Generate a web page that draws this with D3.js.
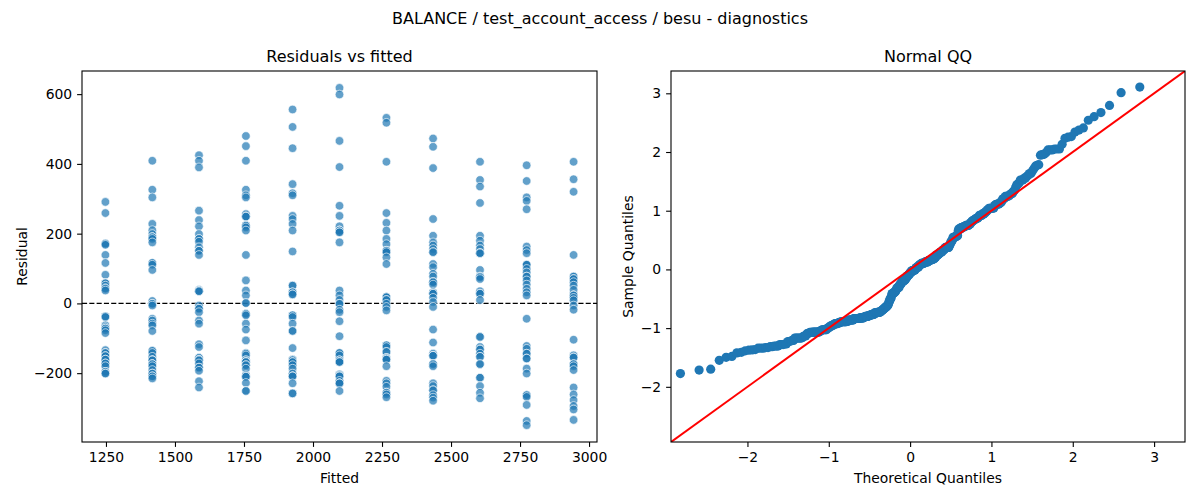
<!DOCTYPE html>
<html>
<head>
<meta charset="utf-8">
<script src="https://cdn.jsdelivr.net/npm/d3@7"></script>
<style>
  body { margin: 0; background: #fff; }
  text { font-family: "DejaVu Sans", sans-serif; fill: #000; }
</style>
</head>
<body>
<div id="chart"></div>
<script>
// fitted levels (one column of residuals per level)
var fittedLevels = [1248, 1418, 1587, 1757, 1926, 2096, 2266, 2435, 2605, 2774, 2944];

// residuals read per fitted column (repeats where dots overlap)
var res1248 = [291, 259, 172, 171, 168, 139, 116, 82, 58, 58, 51, 44, 42, 37, -37, -37, -39, -63, -68, -72, -72, -77, -85, -134, -142, -142, -151, -151, -161, -161, -172, -172, -180, -196, -196, -201, -201];
var res1418 = [409, 326, 304, 228, 210, 199, 190, 190, 190, 185, 175, 116, 116, 111, 96, 7, -1, -1, -6, -44, -49, -58, -63, -79, -136, -136, -142, -153, -163, -163, -163, -174, -174, -174, -180, -191, -201, -201, -209, -209, -215];
var res1587 = [425, 409, 390, 266, 239, 221, 199, 185, 185, 177, 161, 151, 151, 139, 39, 35, 35, 35, -6, -15, -15, -25, -49, -58, -117, -125, -156, -156, -161, -163, -163, -172, -184, -184, -193, -223, -241];
var res1757 = [480, 451, 409, 326, 310, 304, 256, 249, 249, 249, 223, 223, 223, 218, 209, 139, 66, 37, 23, 1, 1, -30, -30, -34, -58, -75, -106, -142, -144, -149, -163, -163, -168, -168, -168, -177, -177, -187, -206, -210, -210, -210, -228, -251, -251];
var res1926 = [556, 506, 445, 342, 316, 310, 251, 242, 228, 209, 149, 51, 51, 32, 32, 26, 26, -34, -34, -39, -58, -79, -79, -128, -161, -161, -163, -168, -168, -177, -187, -201, -209, -209, -209, -229, -258, -258];
var res2096 = [618, 599, 466, 391, 280, 251, 221, 209, 209, 209, 204, 204, 175, 37, 23, 10, -1, -1, -18, -25, -51, -94, -142, -142, -149, -163, -163, -168, -168, -168, -203, -206, -209, -209, -222, -229, -229, -229, -251];
var res2266 = [532, 518, 406, 259, 231, 209, 185, 170, 151, 151, 151, 147, 132, 113, 18, 18, 18, 10, 10, -1, -10, -20, -120, -120, -125, -139, -139, -156, -156, -158, -161, -161, -180, -222, -229, -239, -256, -256, -261, -269];
var res2435 = [473, 449, 388, 242, 194, 175, 166, 156, 147, 147, 113, 104, 85, 77, 61, 61, 61, 54, 32, 28, 28, 28, 16, 4, -10, -75, -112, -144, -150, -150, -150, -174, -174, -180, -229, -237, -249, -249, -263, -270, -279];
var res2605 = [406, 354, 335, 288, 194, 180, 166, 156, 144, 144, 144, 96, 77, 77, 75, 70, 35, 28, 28, 28, 10, -96, -96, -125, -132, -132, -144, -153, -153, -174, -174, -213, -213, -237, -256, -272];
var res2774 = [396, 351, 304, 294, 270, 163, 153, 144, 111, 111, 111, 99, 89, 77, 77, 66, 54, 42, 32, 23, -44, -122, -130, -144, -144, -158, -158, -187, -201, -263, -263, -268, -291, -337, -349];
var res2944 = [406, 356, 320, 139, 77, 77, 70, 70, 61, 51, 39, 23, 23, 23, 16, 9, -6, -18, -104, -149, -155, -155, -174, -174, -180, -191, -241, -261, -277, -294, -304, -334];

var residualColumns = [res1248, res1418, res1587, res1757, res1926, res2096, res2266, res2435, res2605, res2774, res2944];

// tick labels
var fittedTicks = [1250, 1500, 1750, 2000, 2250, 2500, 2750, 3000];
var residualTicks = [-200, 0, 200, 400, 600];
var qqTicks = [-2, -1, 0, 1, 2, 3];

var w = 1200;
var h = 500;
var plotTop = 71, plotBottom = 442;
var leftPanel = { x0: 82, x1: 597 };
var rightPanel = { x0: 671, x1: 1185 };
var tickLen = 4.9;

// flatten into points
var points = [];
fittedLevels.forEach(function (f, i) {
    residualColumns[i].forEach(function (r) {
        points.push([f, r]);
    });
});

// inverse normal cdf (Acklam) for theoretical quantiles
function normInv(p) {
    var a = [-3.969683028665376e+01, 2.209460984245205e+02, -2.759285104469687e+02, 1.383577518672690e+02, -3.066479806614716e+01, 2.506628277459239e+00];
    var b = [-5.447609879822406e+01, 1.615858368580409e+02, -1.556989798598866e+02, 6.680131188771972e+01, -1.328068155288572e+01];
    var c = [-7.784894002430293e-03, -3.223964580411365e-01, -2.400758277161838e+00, -2.549732539343734e+00, 4.374664141464968e+00, 2.938163982698783e+00];
    var d = [7.784695709041462e-03, 3.224671290700398e-01, 2.445134137142996e+00, 3.754408661907416e+00];
    var pl = 0.02425, q, r;
    if (p < pl) {
        q = Math.sqrt(-2 * Math.log(p));
        return (((((c[0] * q + c[1]) * q + c[2]) * q + c[3]) * q + c[4]) * q + c[5]) / ((((d[0] * q + d[1]) * q + d[2]) * q + d[3]) * q + 1);
    }
    if (p > 1 - pl) {
        q = Math.sqrt(-2 * Math.log(1 - p));
        return -(((((c[0] * q + c[1]) * q + c[2]) * q + c[3]) * q + c[4]) * q + c[5]) / ((((d[0] * q + d[1]) * q + d[2]) * q + d[3]) * q + 1);
    }
    q = p - 0.5;
    r = q * q;
    return (((((a[0] * r + a[1]) * r + a[2]) * r + a[3]) * r + a[4]) * r + a[5]) * q / (((((b[0] * r + b[1]) * r + b[2]) * r + b[3]) * r + b[4]) * r + 1);
}

// standardized sorted residuals against normal quantiles
var allRes = points.map(function (d) { return d[1]; }).sort(d3.ascending);
var n = allRes.length;
var mu = d3.mean(allRes);
var sd = Math.sqrt(d3.mean(allRes, function (v) { return (v - mu) * (v - mu); }));
var qq = allRes.map(function (v, i) {
    return [normInv((i + 1) / (n + 1)), (v - mu) / sd];
});

var svg = d3.select("#chart")
    .append("svg")
    .attr("width", w)
    .attr("height", h);

// suptitle
svg.append("text")
    .attr("x", w / 2)
    .attr("y", 24)
    .attr("text-anchor", "middle")
    .style("font-size", "16px")
    .text("BALANCE / test_account_access / besu - diagnostics");

function pad(ext) {
    var m = (ext[1] - ext[0]) * 0.05;
    return [ext[0] - m, ext[1] + m];
}

// ---------- left: residuals vs fitted ----------
var scaleX = d3.scaleLinear()
    .domain(pad(d3.extent(points, function (d) { return d[0]; })))
    .range([leftPanel.x0, leftPanel.x1]);

var scaleY = d3.scaleLinear()
    .domain(pad(d3.extent(points, function (d) { return d[1]; })))
    .range([plotBottom, plotTop]);

var left = svg.append("g");

left.append("line")
    .attr("x1", leftPanel.x0)
    .attr("x2", leftPanel.x1)
    .attr("y1", scaleY(0))
    .attr("y2", scaleY(0))
    .attr("stroke", "#000")
    .attr("stroke-width", 1.1)
    .attr("stroke-dasharray", "5.1,2.2");

left.selectAll("circle")
    .data(points)
    .enter()
    .append("circle")
    .attr("cx", function (d) { return scaleX(d[0]); })
    .attr("cy", function (d) { return scaleY(d[1]); })
    .attr("r", 4.3)
    .attr("fill", "#1f77b4")
    .attr("fill-opacity", 0.7)
    .attr("stroke", "#fff")
    .attr("stroke-opacity", 0.7)
    .attr("stroke-width", 0.9);

function styleAxis(g) {
    g.select(".domain").remove();
    g.selectAll(".tick line").attr("stroke", "#000").attr("stroke-width", 1.1);
    g.selectAll(".tick text").style("font-size", "13.9px").attr("fill", "#000");
}

left.append("g")
    .attr("transform", "translate(0," + plotBottom + ")")
    .call(d3.axisBottom(scaleX).tickValues(fittedTicks).tickFormat(d3.format("d")).tickSize(tickLen).tickPadding(4.9))
    .call(styleAxis);

left.append("g")
    .attr("transform", "translate(" + leftPanel.x0 + ",0)")
    .call(d3.axisLeft(scaleY).tickValues(residualTicks).tickFormat(d3.format("d")).tickSize(tickLen).tickPadding(4.9))
    .call(styleAxis);

left.append("rect")
    .attr("x", leftPanel.x0)
    .attr("y", plotTop)
    .attr("width", leftPanel.x1 - leftPanel.x0)
    .attr("height", plotBottom - plotTop)
    .attr("fill", "none")
    .attr("stroke", "#000")
    .attr("stroke-width", 1.1);

left.append("text")
    .attr("x", (leftPanel.x0 + leftPanel.x1) / 2)
    .attr("y", 62)
    .attr("text-anchor", "middle")
    .style("font-size", "16px")
    .text("Residuals vs fitted");

left.append("text")
    .attr("x", (leftPanel.x0 + leftPanel.x1) / 2)
    .attr("y", 483)
    .attr("text-anchor", "middle")
    .style("font-size", "13.9px")
    .text("Fitted");

left.append("text")
    .attr("transform", "translate(27," + (plotTop + plotBottom) / 2 + ") rotate(-90)")
    .attr("text-anchor", "middle")
    .style("font-size", "13.9px")
    .text("Residual");

// ---------- right: normal QQ ----------
var qqLim = [-2.94, 3.38];

var qqX = d3.scaleLinear()
    .domain(qqLim)
    .range([rightPanel.x0, rightPanel.x1]);

var qqY = d3.scaleLinear()
    .domain(qqLim)
    .range([plotBottom, plotTop]);

var right = svg.append("g");

right.append("defs").append("clipPath")
    .attr("id", "qqclip")
    .append("rect")
    .attr("x", rightPanel.x0)
    .attr("y", plotTop)
    .attr("width", rightPanel.x1 - rightPanel.x0)
    .attr("height", plotBottom - plotTop);

var plot = right.append("g").attr("clip-path", "url(#qqclip)");

plot.selectAll("circle")
    .data(qq)
    .enter()
    .append("circle")
    .attr("cx", function (d) { return qqX(d[0]); })
    .attr("cy", function (d) { return qqY(d[1]); })
    .attr("r", 4.6)
    .attr("fill", "#1f77b4");

plot.append("line")
    .attr("x1", qqX(qqLim[0]))
    .attr("y1", qqY(qqLim[0]))
    .attr("x2", qqX(qqLim[1]))
    .attr("y2", qqY(qqLim[1]))
    .attr("stroke", "#ff0000")
    .attr("stroke-width", 2);

right.append("g")
    .attr("transform", "translate(0," + plotBottom + ")")
    .call(d3.axisBottom(qqX).tickValues(qqTicks).tickFormat(d3.format("d")).tickSize(tickLen).tickPadding(4.9))
    .call(styleAxis);

right.append("g")
    .attr("transform", "translate(" + rightPanel.x0 + ",0)")
    .call(d3.axisLeft(qqY).tickValues(qqTicks).tickFormat(d3.format("d")).tickSize(tickLen).tickPadding(4.9))
    .call(styleAxis);

right.append("rect")
    .attr("x", rightPanel.x0)
    .attr("y", plotTop)
    .attr("width", rightPanel.x1 - rightPanel.x0)
    .attr("height", plotBottom - plotTop)
    .attr("fill", "none")
    .attr("stroke", "#000")
    .attr("stroke-width", 1.1);

right.append("text")
    .attr("x", (rightPanel.x0 + rightPanel.x1) / 2)
    .attr("y", 62)
    .attr("text-anchor", "middle")
    .style("font-size", "16px")
    .text("Normal QQ");

right.append("text")
    .attr("x", (rightPanel.x0 + rightPanel.x1) / 2)
    .attr("y", 483)
    .attr("text-anchor", "middle")
    .style("font-size", "13.9px")
    .text("Theoretical Quantiles");

right.append("text")
    .attr("transform", "translate(633," + (plotTop + plotBottom) / 2 + ") rotate(-90)")
    .attr("text-anchor", "middle")
    .style("font-size", "13.9px")
    .text("Sample Quantiles");
</script>
</body>
</html>
